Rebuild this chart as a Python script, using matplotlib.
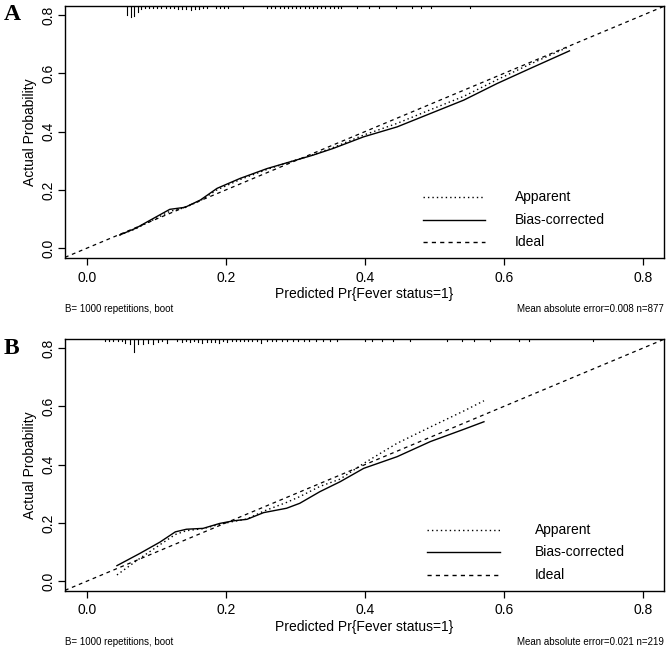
import numpy as np
import matplotlib
matplotlib.use("Agg")
import matplotlib.pyplot as plt

plt.rcParams['font.family'] = ['Liberation Sans', 'DejaVu Sans']

# panel A curves
a_x = [0.047, 0.070, 0.091, 0.119, 0.141, 0.163, 0.187, 0.220, 0.259, 0.292,
       0.325, 0.354, 0.398, 0.446, 0.494, 0.542, 0.590, 0.637, 0.694]
a_bias = [0.045, 0.068, 0.096, 0.133, 0.140, 0.165, 0.205, 0.239, 0.273, 0.296,
          0.319, 0.342, 0.382, 0.416, 0.462, 0.508, 0.565, 0.616, 0.677]
a_app = [0.045, 0.066, 0.092, 0.126, 0.139, 0.163, 0.200, 0.235, 0.270, 0.296,
         0.320, 0.345, 0.388, 0.428, 0.475, 0.521, 0.578, 0.631, 0.692]

# panel B curves
b_x = [0.043, 0.076, 0.105, 0.127, 0.143, 0.167, 0.191, 0.211, 0.230, 0.254,
       0.287, 0.306, 0.335, 0.364, 0.398, 0.446, 0.494, 0.542, 0.571]
b_bias = [0.053, 0.095, 0.134, 0.169, 0.178, 0.181, 0.198, 0.207, 0.212, 0.235,
          0.250, 0.267, 0.307, 0.341, 0.387, 0.427, 0.479, 0.521, 0.547]
b_app = [0.021, 0.078, 0.125, 0.160, 0.173, 0.180, 0.195, 0.205, 0.213, 0.240,
         0.270, 0.290, 0.325, 0.350, 0.404, 0.473, 0.529, 0.584, 0.619]

# rug of predicted values at top (position, spike height in px)
rug_a_x = [0.058, 0.063, 0.068, 0.073, 0.078, 0.083, 0.089, 0.095, 0.101, 0.107,
           0.113, 0.119, 0.125, 0.131, 0.137, 0.143, 0.149, 0.155, 0.161, 0.167,
           0.173, 0.185, 0.191, 0.197, 0.203, 0.225, 0.259, 0.265, 0.271, 0.277,
           0.283, 0.289, 0.295, 0.301, 0.307, 0.313, 0.319, 0.325, 0.331, 0.337,
           0.343, 0.349, 0.355, 0.361, 0.366, 0.389, 0.405, 0.420, 0.445, 0.467,
           0.480, 0.495, 0.551]
rug_a_h = [9, 11, 10, 6, 3, 2, 2, 2, 2, 2,
           2, 2, 2, 3, 3, 3, 4, 3, 3, 2,
           2, 2, 2, 2, 2, 2, 2, 2, 2, 2,
           2, 2, 2, 2, 2, 2, 2, 2, 2, 2,
           2, 2, 2, 2, 2, 2, 2, 2, 2, 2,
           2, 2, 2]

rug_b_x = [0.026, 0.032, 0.038, 0.044, 0.050, 0.055, 0.062, 0.068, 0.073, 0.081,
           0.088, 0.095, 0.102, 0.108, 0.115, 0.130, 0.136, 0.142, 0.148, 0.154,
           0.160, 0.166, 0.172, 0.178, 0.184, 0.190, 0.196, 0.202, 0.208, 0.214,
           0.220, 0.226, 0.232, 0.238, 0.244, 0.250, 0.259, 0.266, 0.272, 0.280,
           0.288, 0.296, 0.304, 0.312, 0.320, 0.330, 0.340, 0.350, 0.360, 0.400,
           0.410, 0.425, 0.440, 0.465, 0.518, 0.540, 0.557, 0.580, 0.622, 0.636,
           0.728]
rug_b_h = [2, 2, 2, 2, 2, 4, 5, 13, 5, 5,
           4, 5, 3, 2, 4, 2, 3, 2, 3, 2,
           3, 4, 3, 3, 3, 4, 2, 3, 2, 2,
           2, 2, 2, 2, 2, 4, 2, 2, 2, 2,
           2, 2, 2, 2, 2, 2, 2, 2, 2, 2,
           2, 2, 2, 2, 2, 2, 2, 2, 2, 2,
           2]

legend_labels = ['Apparent', 'Bias-corrected', 'Ideal']
ticks = [0.0, 0.2, 0.4, 0.6, 0.8]
tick_labels = ['0.0', '0.2', '0.4', '0.6', '0.8']

W, H = 669, 656
fig = plt.figure(figsize=(W / 100, H / 100), dpi=100)

XLIM = (-0.0317, 0.830)
YLIM = (-0.034, 0.831)
DOT = (1, 2.2)
DASH = (3, 3)


def fx(px):
    return px / W


def fy(py):
    return 1 - py / H


def panel(top, bottom, x, bias, app, rx, rh, leg, letter, mae):
    ax = fig.add_axes([fx(65), fy(bottom), fx(664) - fx(65), fy(top) - fy(bottom)])
    ax.set_xlim(*XLIM)
    ax.set_ylim(*YLIM)

    # ideal line
    ax.plot(XLIM, XLIM, color='black', lw=0.9, dashes=DASH)
    ax.plot(x, bias, color='black', lw=1.0)
    ax.plot(x, app, color='black', lw=1.0, dashes=DOT)

    # rug spikes hanging from the top border
    per_px = (YLIM[1] - YLIM[0]) / (bottom - top)
    for xv, hv in zip(rx, rh):
        ax.plot([xv, xv], [YLIM[1], YLIM[1] - hv * per_px], color='black', lw=0.8)

    ax.set_xticks(ticks)
    ax.set_xticklabels(tick_labels)
    ax.set_yticks(ticks)
    ax.set_yticklabels(tick_labels, rotation=90, va='center')
    ax.tick_params(axis='both', length=5, width=0.9, labelsize=10, direction='out')
    ax.tick_params(axis='x', pad=4)
    ax.tick_params(axis='y', pad=2)
    for s in ax.spines.values():
        s.set_linewidth(1.0)

    ax.set_xlabel('Predicted Pr{Fever status=1}', fontsize=10, labelpad=2)
    ax.set_ylabel('Actual Probability', fontsize=10, labelpad=3)

    # legend drawn by hand, R style
    lx0, lx1, tx, ys = leg
    styles = [dict(dashes=DOT), dict(), dict(dashes=DASH)]
    for lab, st, yv in zip(legend_labels, styles, ys):
        ax.plot([lx0, lx1], [yv, yv], color='black', lw=1.0, transform=ax.transAxes, **st)
        ax.text(tx, yv, lab, transform=ax.transAxes, fontsize=10, va='center', ha='left')

    fig.text(fx(65), fy(bottom + 51), 'B= 1000 repetitions, boot', fontsize=7,
             ha='left', va='center')
    fig.text(fx(664), fy(bottom + 51), mae, fontsize=7, ha='right', va='center')
    fig.text(fx(4), fy(top + 9), letter, fontsize=17, fontweight='bold',
             family='Liberation Serif', ha='left', va='center')
    return ax


panel(6, 258, a_x, a_bias, a_app, rug_a_x, rug_a_h,
      (0.598, 0.701, 0.751, (0.242, 0.151, 0.063)), 'A',
      'Mean absolute error=0.008 n=877')
panel(339, 591, b_x, b_bias, b_app, rug_b_x, rug_b_h,
      (0.604, 0.726, 0.785, (0.242, 0.155, 0.063)), 'B',
      'Mean absolute error=0.021 n=219')

fig.savefig('out.png', dpi=100)
